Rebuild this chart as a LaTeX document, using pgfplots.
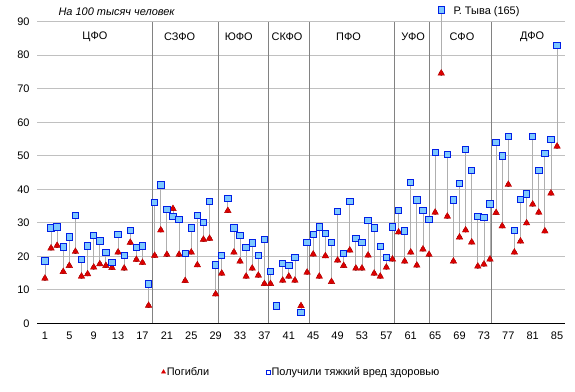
\documentclass[border=0pt]{standalone}
\usepackage{fontspec}
\setmainfont{Liberation Sans}
\usepackage{pgfplots}
\usepackage{pgfplotstable}
\pgfplotsset{compat=1.18}
\definecolor{tri}{RGB}{220,0,0}
\definecolor{sqfill}{RGB}{125,200,255}
\definecolor{sqedge}{RGB}{0,30,230}
\definecolor{gridc}{RGB}{192,192,192}
\definecolor{sepc}{RGB}{130,130,130}
\definecolor{conn}{RGB}{175,175,175}
\pgfplotsset{mylegimg/.style={legend image code/.code={\draw[##1] plot coordinates {(0.08cm,0cm)};}}}

\pgfplotstableread{
x t s
1 13.4 18.6
2 22.4 28.4
3 23.2 28.7
4 15.4 22.8
5 17.2 25.8
6 21.4 32.2
7 14.0 19.1
8 14.7 23.1
9 16.7 26.3
10 17.7 24.6
11 17.2 21.2
12 16.6 18.2
13 21.2 26.6
14 16.4 20.3
15 24.1 27.8
16 19.0 22.7
17 18.1 23.1
18 5.3 11.7
19 20.2 36.1
20 27.8 41.3
21 20.5 34.0
22 34.2 31.9
23 20.5 31.0
24 12.7 20.9
25 21.2 28.4
26 17.4 32.2
27 25.0 30.1
28 25.3 36.4
29 8.7 17.4
30 14.9 20.3
31 33.6 37.3
32 21.2 28.4
33 18.5 26.3
34 14.0 22.7
35 16.4 24.0
36 14.3 20.3
37 11.8 25.1
38 11.8 15.5
39 4.8 5.2
40 12.8 17.9
41 14.0 17.3
42 12.8 19.7
43 5.2 3.3
44 15.2 24.2
45 20.6 26.6
46 14.0 28.7
47 20.1 26.9
48 12.4 24.2
49 18.8 33.4
50 17.2 20.9
51 21.8 36.4
52 16.4 25.4
53 16.4 24.2
54 20.3 30.7
55 14.9 28.4
56 14.0 23.0
57 16.7 19.7
58 19.1 28.7
59 27.2 33.7
60 18.5 27.6
61 21.2 42.1
62 17.3 36.8
63 22.1 33.7
64 20.5 31.0
65 33.1 51.0
66 74.6 93.5
67 31.9 50.4
68 18.5 36.8
69 25.7 41.8
70 27.8 51.9
71 24.2 45.7
72 17.0 31.9
73 17.6 31.6
74 19.1 35.6
75 33.0 54.0
76 29.0 49.9
77 41.4 55.8
78 21.2 27.8
79 24.5 37.0
80 29.9 38.6
81 35.5 55.8
82 33.1 45.7
83 27.5 50.7
84 38.8 54.9
85 52.8 83.0
}\data

\pgfplotstableread{
x y
18.67 90
29.43 90
37.6 90
44.37 90
58.4 90
64.1 90
74.2 90
}\seps

\begin{document}
\begin{tikzpicture}
\path[use as bounding box] (-37bp,-68.7bp) rectangle (538bp,323.3bp);
\begin{axis}[
  at={(0,0)}, anchor=south west,
  scale only axis, width=528bp, height=301.6bp,
  xmin=-0.3, xmax=86.3, ymin=0, ymax=90,
  xtick={1,5,...,85}, ytick={0,10,...,90},
  ymajorgrids, grid style={gridc, line width=0.8pt},
  axis x line*=bottom, axis y line*=left,
  y axis line style={draw=none},
  x axis line style={black, line width=1.3pt},
  major tick length=0pt,
  clip=false,
  /pgf/number format/assume math mode=true,
  tick label style={font=\fontsize{11}{13}\selectfont, black},
  xticklabel style={yshift=-5bp},
  yticklabel style={xshift=-4bp},
  legend style={at={(0.5,-0.1615)}, anchor=center, draw=none,
    font=\fontsize{11}{13}\selectfont, legend columns=2,
    /tikz/every even column/.append style={column sep=56bp},
    nodes={inner sep=1.2pt}},
  legend cell align=left,
]
\addplot[ycomb, sepc, line width=0.9pt, mark=none, forget plot] table[x=x,y=y] {\seps};
\addplot[only marks, mark=none, forget plot,
  error bars/.cd, y dir=both, y explicit, error mark=none,
  error bar style={draw=conn, line width=0.8pt}]
  table[x=x, y=t, y error plus expr={max(0,\thisrow{s}-\thisrow{t})}, y error minus expr={max(0,\thisrow{t}-\thisrow{s})}] {\data};
\addplot[only marks, mark=triangle*, mark size=3.8pt, color=tri, mark options={fill=tri, draw=tri!85!black, line width=0.4pt}, forget plot]
  table[x=x, y=t] {\data};
\addplot[only marks, mark=square*, mark size=3.2pt, mark options={fill=sqfill, draw=sqedge, line width=0.9pt}, forget plot]
  table[x=x, y=s] {\data};
\addlegendimage{only marks, mark=triangle*, mark size=2.4pt, color=tri, mark options={fill=tri}, mylegimg}
\addlegendentry{Погибли}
\addlegendimage{only marks, mark=square*, mark size=2pt, mark options={fill=white, draw=sqedge, line width=0.8pt}, mylegimg}
\addlegendentry{Получили тяжкий вред здоровью}
\begin{scope}[every node/.style={font=\fontsize{11}{13}\selectfont, black}]
\node at (axis cs:9.2,85.6) {ЦФО};
\node at (axis cs:23.1,85.6) {СЗФО};
\node at (axis cs:32.8,85.6) {ЮФО};
\node at (axis cs:40.7,85.6) {СКФО};
\node at (axis cs:50.8,85.6) {ПФО};
\node at (axis cs:61.4,85.6) {УФО};
\node at (axis cs:69.4,85.6) {СФО};
\node at (axis cs:80.9,85.6) {ДФО};
\node[anchor=west, font=\fontsize{11}{13}\selectfont\itshape, inner sep=0pt] at (axis cs:3.2,92.9) {На 100 тысяч человек};
\node[anchor=west, inner sep=0pt] at (axis cs:68.0,92.9) {Р. Тыва (165)};
\end{scope}
\end{axis}
\end{tikzpicture}
\end{document}
